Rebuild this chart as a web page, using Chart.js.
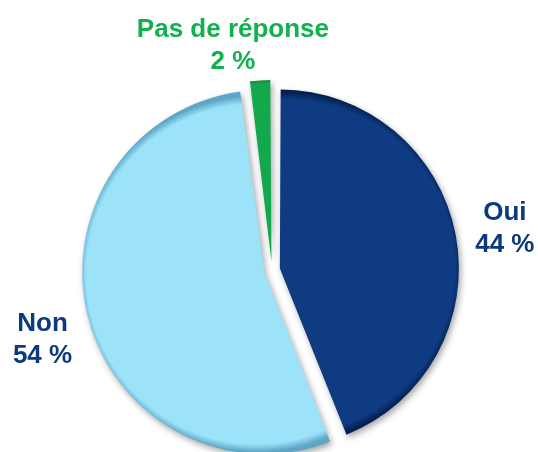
<!DOCTYPE html>
<html>
<head>
<meta charset="utf-8">
<script src="https://cdn.jsdelivr.net/npm/chart.js@4/dist/chart.umd.min.js"></script>
<style>
  html, body { margin: 0; padding: 0; background: #ffffff; }
  #wrap { width: 538px; height: 452px; position: relative; }
</style>
</head>
<body>
<div id="wrap"><canvas id="c" width="538" height="452"></canvas></div>
<script>
// ---- data ----
const categories = ['Oui', 'Non', 'Pas de réponse'];
const values = [44, 54, 2];
const valueLabels = ['44 %', '54 %', '2 %'];

// ---- styles ----
const baseColors = ['#0e3b82', '#9ce3fa', '#14a84c'];
const rimColors = ['#041f4e', '#5ea6c6', '#07622a'];
const textColors = ['#0d3a7e', '#0d3a7e', '#12b04e'];
const sliceOffsets = [32, 32, 34];
const labelNudgeX = [0, 3, -24];
const labelNudgeY = [3, 10, 0];
const RADIUS = 174;
const LABEL_GAP = 50;
const FONT_SIZE = 26;
const LINE_H = 32;
const LABEL_TOP_MIN = 14;
const FONT = 'bold ' + FONT_SIZE + 'px "Liberation Sans", Arial, sans-serif';

function sliceGeometry(chart, i) {
  const total = values.reduce((a, b) => a + b, 0);
  let start = -Math.PI / 2;
  for (let k = 0; k < i; k++) start += values[k] / total * Math.PI * 2;
  const circ = values[i] / total * Math.PI * 2;
  const mid = start + circ / 2;
  const ca = chart.chartArea;
  const off = sliceOffsets[i] / 4;
  const fix = 1 - Math.sin(Math.min(Math.PI, circ));
  const cx = (ca.left + ca.right) / 2 + Math.cos(mid) * off;
  const cy = (ca.top + ca.bottom) / 2 + Math.sin(mid) * off;
  return { cx, cy, r: RADIUS + off * fix, mid };
}

function sliceFill(context) {
  const chart = context.chart;
  const i = context.dataIndex;
  if (!chart.chartArea || i === undefined) return baseColors[i || 0];
  const g = sliceGeometry(chart, i);
  const grad = chart.ctx.createRadialGradient(g.cx, g.cy, 0, g.cx, g.cy, g.r);
  grad.addColorStop(0, baseColors[i]);
  grad.addColorStop(Math.max(0, (g.r - 12) / g.r), baseColors[i]);
  grad.addColorStop(Math.max(0, (g.r - 4) / g.r), rimColors[i]);
  grad.addColorStop(1, rimColors[i]);
  return grad;
}

const shadowPlugin = {
  id: 'shadow',
  beforeDatasetsDraw(chart) {
    const ctx = chart.ctx;
    ctx.save();
    ctx.shadowColor = 'rgba(0,0,0,0.35)';
    ctx.shadowBlur = 6;
    ctx.shadowOffsetX = 2;
    ctx.shadowOffsetY = 3;
  },
  afterDatasetsDraw(chart) {
    chart.ctx.restore();
  }
};

const labelPlugin = {
  id: 'outerLabels',
  afterDraw(chart) {
    const ctx = chart.ctx;
    const meta = chart.getDatasetMeta(0);
    ctx.save();
    ctx.font = FONT;
    ctx.textAlign = 'center';
    ctx.textBaseline = 'middle';
    meta.data.forEach((el, i) => {
      const p = el.getProps(['x', 'y', 'startAngle', 'endAngle', 'outerRadius', 'circumference'], true);
      const mid = (p.startAngle + p.endAngle) / 2;
      const off = (el.options.offset || 0) / 4;
      const fix = 1 - Math.sin(Math.min(Math.PI, p.circumference));
      const cx = p.x + Math.cos(mid) * off;
      const cy = p.y + Math.sin(mid) * off;
      const d = p.outerRadius + off * fix + LABEL_GAP;
      let lx = cx + Math.cos(mid) * d + labelNudgeX[i];
      let ly = cy + Math.sin(mid) * d + labelNudgeY[i];
      const boxTop = ly - LINE_H / 2 - FONT_SIZE / 2 - 3;
      if (boxTop < LABEL_TOP_MIN) ly += LABEL_TOP_MIN - boxTop;
      ctx.fillStyle = textColors[i];
      ctx.fillText(categories[i], lx, ly - LINE_H / 2);
      ctx.fillText(valueLabels[i], lx, ly + LINE_H / 2);
    });
    ctx.restore();
  }
};

new Chart(document.getElementById('c'), {
  type: 'pie',
  data: {
    labels: categories,
    datasets: [{
      data: values,
      backgroundColor: sliceFill,
      borderWidth: 0,
      offset: sliceOffsets,
      hoverOffset: 0
    }]
  },
  options: {
    responsive: false,
    animation: false,
    radius: RADIUS,
    layout: { padding: { left: 6, right: 0, top: 88, bottom: 0 } },
    plugins: {
      legend: { display: false },
      tooltip: { enabled: false }
    }
  },
  plugins: [shadowPlugin, labelPlugin]
});
</script>
</body>
</html>
